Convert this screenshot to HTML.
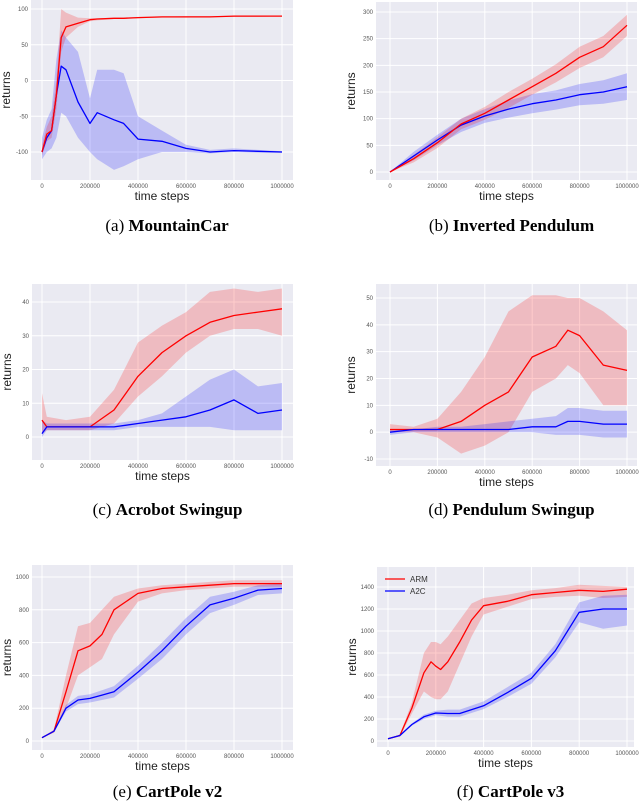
<!DOCTYPE html>
<html><head><meta charset="utf-8">
<style>
html,body{margin:0;padding:0;background:#fff;width:640px;height:804px;overflow:hidden}
svg{display:block}
.tick{font-family:"Liberation Sans",sans-serif;font-size:6px;fill:#555}
.axl{font-family:"Liberation Sans",sans-serif;font-size:12px;fill:#222}
.cap{font-family:"Liberation Serif",serif;font-size:17px;fill:#000}
</style></head>
<body>
<svg id="fig" width="640" height="804" viewBox="0 0 640 804" xmlns="http://www.w3.org/2000/svg"></svg>
<script>
// ---- data (x in steps, y in returns) ----
const aSteps=[0,20000,40000,60000,80000,100000,150000,200000,230000,300000,340000,400000,500000,600000,700000,800000,900000,1000000];
const aArm=[-100,-75,-70,-20,60,75,80,85,86,87,87,88,89,89,89,90,90,90];
const aArmLo=[-105,-85,-80,-40,40,60,75,83,84,86,86,87,88,88,89,89,89,90];
const aArmHi=[-90,-65,-50,0,100,95,88,87,87,88,88,89,89,90,90,90,90,90];
const aA2c=[-100,-80,-70,-20,20,15,-30,-60,-45,-55,-60,-82,-85,-95,-100,-98,-99,-100];
const aA2cLo=[-110,-100,-95,-80,-45,-50,-80,-100,-110,-125,-120,-110,-100,-100,-102,-100,-101,-101];
const aA2cHi=[-80,-55,-40,30,70,60,40,-25,15,15,10,-50,-70,-90,-97,-95,-97,-99];
const aTicks=[-100,-50,0,50,100];

const bSteps=[0,100000,200000,300000,400000,500000,600000,700000,800000,900000,1000000];
const bArm=[0,25,55,90,110,135,160,185,215,235,275];
const bArmLo=[0,18,45,80,98,120,145,168,195,215,255];
const bArmHi=[0,32,65,100,122,150,175,202,235,255,295];
const bA2c=[0,30,60,88,105,118,128,135,145,150,160];
const bA2cLo=[0,22,50,75,92,102,110,117,125,128,135];
const bA2cHi=[0,38,70,100,118,134,146,153,165,172,185];
const bTicks=[0,50,100,150,200,250,300];

const cSteps=[0,20000,100000,200000,300000,400000,500000,600000,700000,800000,900000,1000000];
const cArm=[5,3,3,3,8,18,25,30,34,36,37,38];
const cArmLo=[1,2,2,2,4,12,18,25,30,32,32,30];
const cArmHi=[13,6,5,6,14,28,33,37,43,44,43,44];
const cA2c=[1,3,3,3,3,4,5,6,8,11,7,8];
const cA2cLo=[0,2,2,2,2,3,3,3,3,2,2,2];
const cA2cHi=[5,4,4,4,4,5,7,12,17,20,15,16];
const cTicks=[0,10,20,30,40];

const dSteps=[0,100000,200000,300000,400000,500000,600000,700000,750000,800000,900000,1000000];
const dArm=[1,1,1,4,10,15,28,32,38,36,25,23];
const dArmLo=[0,0,-2,-8,-5,0,15,20,25,22,10,10];
const dArmHi=[3,2,5,15,28,45,51,51,50,50,45,38];
const dA2c=[0,1,1,1,1,1,2,2,4,4,3,3];
const dA2cLo=[-1,0,0,0,0,0,0,-1,-1,-1,-2,-2];
const dA2cHi=[1,1,2,2,3,4,5,6,9,9,8,8];
const dTicks=[-10,0,10,20,30,40,50];

const eSteps=[0,50000,100000,150000,200000,250000,300000,400000,500000,600000,700000,800000,900000,1000000];
const eArm=[20,60,300,550,580,650,800,900,930,940,950,960,960,960];
const eArmLo=[20,50,200,400,450,500,650,850,900,920,930,940,940,940];
const eArmHi=[20,70,400,700,720,800,880,930,950,960,970,980,980,980];
const eA2c=[20,60,200,250,260,280,300,420,550,700,830,870,920,930];
const eA2cLo=[20,55,180,225,235,250,265,380,500,650,780,830,890,900];
const eA2cHi=[20,65,220,275,285,310,335,460,600,750,880,910,950,960];
const eTicks=[0,200,400,600,800,1000];

const fSteps=[0,50000,100000,150000,180000,200000,220000,250000,300000,350000,400000,500000,600000,700000,800000,900000,1000000];
const fArm=[20,50,300,620,720,680,650,720,900,1100,1230,1270,1330,1350,1370,1360,1380];
const fArmLo=[20,40,250,450,400,380,380,450,700,950,1150,1220,1290,1310,1320,1300,1310];
const fArmHi=[20,60,350,800,900,900,880,950,1100,1250,1300,1330,1370,1390,1420,1410,1400];
const fA2cSteps=[0,50000,100000,150000,200000,250000,300000,400000,500000,600000,700000,800000,900000,1000000];
const fA2c=[20,50,150,220,255,250,250,320,440,570,820,1170,1200,1200];
const fA2cLo=[20,45,140,200,235,220,220,290,400,520,760,1080,1020,1050];
const fA2cHi=[20,55,160,240,275,285,285,360,490,620,880,1260,1320,1330];
const fTicks=[0,200,400,600,800,1000,1200,1400];

const xTicks=[0,200000,400000,600000,800000,1000000];

const NS="http://www.w3.org/2000/svg";
const svg=document.getElementById('fig');
function el(tag,attrs,parent){const e=document.createElementNS(NS,tag);for(const k in attrs)e.setAttribute(k,attrs[k]);(parent||svg).appendChild(e);return e;}

function panel(p){
  const g=el('g',{});
  
  
  const X=v=>p.x0+(v/1e6)*(p.x1-p.x0);
  const Y=v=>p.ya+(v-p.va)*(p.yb-p.ya)/(p.vb-p.va);
  const bg=el('rect',{x:p.L,y:p.T,width:p.R-p.L,height:p.B-p.T,fill:'#eaeaf2'},g);
  
  
  xTicks.forEach(t=>{
    const ln=el('line',{x1:X(t),x2:X(t),y1:p.T,y2:p.B,stroke:'#fff','stroke-width':1},g);
    
    
    const tx=el('text',{x:X(t),y:p.B+8,'text-anchor':'middle',class:'tick'},g);
    tx.textContent=String(t);
    
    
  });
  p.ticks.forEach(t=>{
    const ln=el('line',{x1:p.L,x2:p.R,y1:Y(t),y2:Y(t),stroke:'#fff','stroke-width':1},g);
    
    
    const tx=el('text',{x:p.L-3,y:Y(t)+2,'text-anchor':'end',class:'tick'},g);
    tx.textContent=String(t);
    
    
  });
  p.series.forEach(s=>{
    let d='';
    s.steps.forEach((v,i)=>{d+=(i?'L':'M')+X(v).toFixed(1)+','+Y(s.hi[i]).toFixed(1);});
    for(let i=s.steps.length-1;i>=0;i--)d+='L'+X(s.steps[i]).toFixed(1)+','+Y(s.lo[i]).toFixed(1);
    const band=el('path',{d:d+'Z',fill:s.color,'fill-opacity':0.2,stroke:'none'},g);
    
    
  });
  p.series.forEach(s=>{
    const pts=s.steps.map((v,i)=>X(v).toFixed(1)+','+Y(s.mean[i]).toFixed(1)).join(' ');
    const ln=el('polyline',{points:pts,fill:'none',stroke:s.color,'stroke-width':1.3,'stroke-linejoin':'round'},g);
    
    
  });
  const xl=el('text',{x:(p.L+p.R)/2,y:p.B+20,'text-anchor':'middle',class:'axl'},g);
  xl.textContent='time steps';
  
  
  const yx=p.L-21, yy=(p.T+p.B)/2;
  const yl=el('text',{x:yx,y:yy,'text-anchor':'middle',class:'axl',transform:`rotate(-90 ${yx} ${yy})`},g);
  yl.textContent='returns';
  
  
  const cap=el('text',{x:(p.L+p.R)/2+5,y:p.capY,'text-anchor':'middle',class:'cap'},g);
  
  
  const t1=el('tspan',{},cap);t1.textContent='('+p.id+') ';
  const t2=el('tspan',{'font-weight':'bold'},cap);t2.textContent=p.title;
  if(p.legend){
    const items=[['ARM','#ff0000'],['A2C','#0000ff']];
    items.forEach((it,i)=>{
      const yy2=p.T+12+i*12;
      const l=el('line',{x1:p.L+8,x2:p.L+28,y1:yy2,y2:yy2,stroke:it[1],'stroke-width':1.3},g);
      
      
      const t=el('text',{x:p.L+33,y:yy2+3,class:'tick'},g);
      t.setAttribute('style','font-size:8px;fill:#333');
      t.textContent=it[0];
      
      
    });
  }
}
const RED='#ff0000',BLUE='#0000ff';
panel({id:'a',title:'MountainCar',L:31,R:293,T:0,B:180,x0:42,x1:282,va:100,ya:9,vb:-100,yb:152,ticks:aTicks,capY:231,
 series:[{name:'a2c',color:BLUE,steps:aSteps,mean:aA2c,lo:aA2cLo,hi:aA2cHi},{name:'arm',color:RED,steps:aSteps,mean:aArm,lo:aArmLo,hi:aArmHi}]});
panel({id:'b',title:'Inverted Pendulum',L:376,R:637,T:2,B:180,x0:390,x1:627,va:0,ya:172,vb:300,yb:12,ticks:bTicks,capY:231,
 series:[{name:'a2c',color:BLUE,steps:bSteps,mean:bA2c,lo:bA2cLo,hi:bA2cHi},{name:'arm',color:RED,steps:bSteps,mean:bArm,lo:bArmLo,hi:bArmHi}]});
panel({id:'c',title:'Acrobot Swingup',L:32,R:293,T:284,B:460,x0:42,x1:282,va:0,ya:437,vb:40,yb:302,ticks:cTicks,capY:515,
 series:[{name:'arm',color:RED,steps:cSteps,mean:cArm,lo:cArmLo,hi:cArmHi},{name:'a2c',color:BLUE,steps:cSteps,mean:cA2c,lo:cA2cLo,hi:cA2cHi}]});
panel({id:'d',title:'Pendulum Swingup',L:376,R:637,T:284,B:466,x0:390,x1:627,va:-10,ya:459,vb:50,yb:298,ticks:dTicks,capY:515,
 series:[{name:'arm',color:RED,steps:dSteps,mean:dArm,lo:dArmLo,hi:dArmHi},{name:'a2c',color:BLUE,steps:dSteps,mean:dA2c,lo:dA2cLo,hi:dA2cHi}]});
panel({id:'e',title:'CartPole v2',L:32,R:293,T:565,B:750,x0:42,x1:282,va:0,ya:741,vb:1000,yb:577,ticks:eTicks,capY:797,
 series:[{name:'arm',color:RED,steps:eSteps,mean:eArm,lo:eArmLo,hi:eArmHi},{name:'a2c',color:BLUE,steps:eSteps,mean:eA2c,lo:eA2cLo,hi:eA2cHi}]});
panel({id:'f',title:'CartPole v3',L:377,R:634,T:567,B:747,x0:388,x1:627,va:0,ya:741,vb:1400,yb:587,ticks:fTicks,capY:797,legend:true,
 series:[{name:'arm',color:RED,steps:fSteps,mean:fArm,lo:fArmLo,hi:fArmHi},{name:'a2c',color:BLUE,steps:fA2cSteps,mean:fA2c,lo:fA2cLo,hi:fA2cHi}]});
</script>
</body></html>
